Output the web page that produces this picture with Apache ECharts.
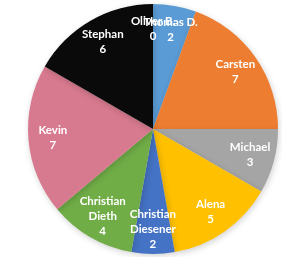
<!DOCTYPE html>
<html>
<head>
<meta charset="utf-8">
<script src="https://cdn.jsdelivr.net/npm/echarts@6/dist/echarts.min.js"></script>
<style>
  html, body { margin: 0; padding: 0; background: #fff; }
  #main { width: 282px; height: 257px; }
</style>
</head>
<body>
<div id="main"></div>
<script>
// Namen und Werte (im Uhrzeigersinn ab 12 Uhr)
var names = ['Oliver B.', 'Thomas D.', 'Carsten', 'Michael', 'Alena', 'Christian\nDiesener', 'Christian\nDieth', 'Kevin', 'Stephan'];
var values = [0, 2, 7, 3, 5, 2, 4, 7, 6];
var colors = ['#8FAADC', '#5B9BD5', '#ED7D31', '#A5A5A5', '#FFC000', '#4472C4', '#70AD47', '#D87A8F', '#0A0A0A'];

var pieData = [];
for (var i = 0; i < names.length; i++) {
  pieData.push({ name: names[i], value: values[i], itemStyle: { color: colors[i] } });
}

// Beschriftungs-Serie: 0-Werte bekommen einen winzigen Winkel, sonst zeigt ECharts kein Label
var labelData = names.map(function (n, i) {
  return { name: n, value: values[i] === 0 ? 0.01 : values[i] };
});

var myChart = echarts.init(document.getElementById('main'));
var option = {
  animation: false,
  series: [
    {
      type: 'pie',
      center: [153, 129],
      radius: [0, 125],
      startAngle: 90,
      clockwise: true,
      label: { show: false },
      labelLine: { show: false },
      itemStyle: { borderWidth: 0, shadowBlur: 6, shadowColor: 'rgba(0,0,0,0.18)', shadowOffsetX: 1, shadowOffsetY: 2 },
      data: pieData
    },
    {
      // nur für die Beschriftung (liegt bei ca. 0.78 r)
      type: 'pie',
      silent: true,
      center: [153, 129],
      radius: [70, 125],
      startAngle: 90,
      clockwise: true,
      avoidLabelOverlap: false,
      minShowLabelAngle: 0,
      labelLayout: { hideOverlap: false },
      itemStyle: { color: 'rgba(0,0,0,0)', borderWidth: 0 },
      label: {
        show: true,
        position: 'inside',
        color: '#fff',
        fontFamily: 'Lato',
        fontWeight: 'bold',
        fontSize: 11.5,
        lineHeight: 15,
        formatter: function (p) { return p.name + '\n' + values[p.dataIndex]; }
      },
      labelLine: { show: false },
      data: labelData
    }
  ]
};
myChart.setOption(option);
</script>
</body>
</html>
